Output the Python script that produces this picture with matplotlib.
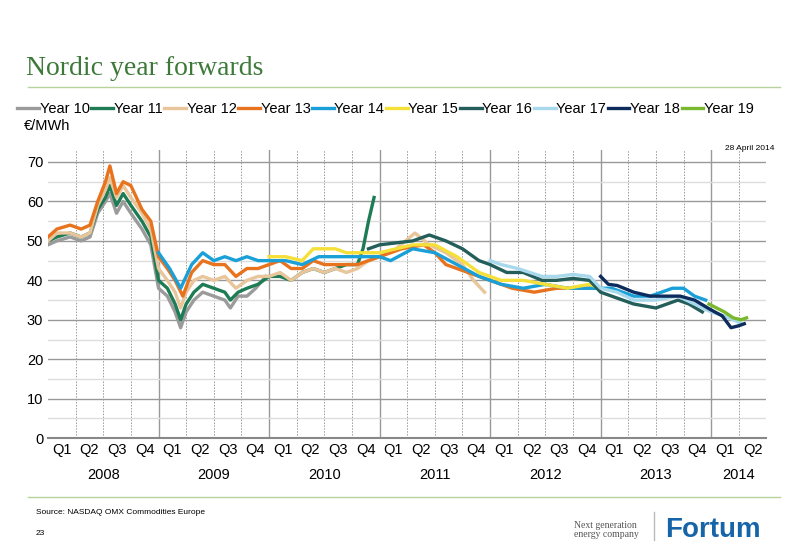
import matplotlib.pyplot as plt
from matplotlib.ticker import MultipleLocator

# time in years since 1 Jan 2008, price in EUR/MWh
t10 = [0.0, 0.08, 0.2, 0.3, 0.38, 0.45, 0.52, 0.56, 0.62, 0.68, 0.75, 0.85, 0.93, 1.0, 1.08, 1.15, 1.2, 1.25, 1.32, 1.4, 1.5, 1.6, 1.65, 1.72, 1.8, 1.88, 1.97]
y10 = [49, 50, 51, 50, 51, 57, 60, 62, 57, 60, 57, 53, 49, 38, 36, 32, 28, 32, 35, 37, 36, 35, 33, 36, 36, 38, 41]
t11 = [0.0, 0.08, 0.2, 0.3, 0.38, 0.45, 0.52, 0.56, 0.62, 0.68, 0.75, 0.85, 0.93, 1.0, 1.08, 1.15, 1.2, 1.25, 1.32, 1.4, 1.5, 1.6, 1.65, 1.72, 1.8, 1.9, 2.0, 2.1, 2.2, 2.3, 2.4, 2.5, 2.6, 2.7, 2.8, 2.85, 2.9, 2.95]
y11 = [50, 51, 52, 51, 52, 58, 61, 64, 59, 62, 59, 55, 51, 40, 38, 34, 30, 34, 37, 39, 38, 37, 35, 37, 38, 39, 41, 41, 40, 42, 43, 42, 43, 44, 44, 48, 55, 61]
t12 = [0.0, 0.08, 0.2, 0.3, 0.38, 0.45, 0.52, 0.56, 0.62, 0.68, 0.75, 0.85, 0.93, 1.0, 1.08, 1.15, 1.2, 1.25, 1.32, 1.4, 1.5, 1.6, 1.7, 1.8, 1.9, 2.0, 2.1, 2.2, 2.3, 2.4, 2.5, 2.6, 2.7, 2.8, 2.9, 3.0, 3.15, 3.32, 3.45, 3.6, 3.75, 3.85, 3.95]
y12 = [50, 52, 52, 51, 52, 59, 63, 66, 61, 64, 61, 57, 53, 43, 40, 37, 33, 37, 40, 41, 40, 41, 38, 40, 41, 41, 42, 40, 42, 43, 42, 43, 42, 43, 45, 46, 48, 52, 49, 47, 44, 40, 37]
t13 = [0.0, 0.08, 0.2, 0.3, 0.38, 0.45, 0.52, 0.56, 0.62, 0.68, 0.75, 0.85, 0.93, 1.0, 1.08, 1.15, 1.22, 1.3, 1.4, 1.5, 1.6, 1.7, 1.8, 1.9, 2.0, 2.1, 2.2, 2.3, 2.4, 2.5, 2.6, 2.7, 2.8, 2.9, 3.0, 3.2, 3.4, 3.5, 3.6, 3.8, 4.0, 4.2, 4.4, 4.6, 4.8, 4.95]
y13 = [51, 53, 54, 53, 54, 60, 65, 69, 62, 65, 64, 58, 55, 46, 43, 40, 36, 42, 45, 44, 44, 41, 43, 43, 44, 45, 43, 43, 45, 44, 44, 44, 44, 45, 46, 48, 49, 47, 44, 42, 40, 38, 37, 38, 38, 38]
t14 = [1.0, 1.1, 1.2, 1.3, 1.4, 1.5, 1.6, 1.7, 1.8, 1.9, 2.0, 2.15, 2.3, 2.45, 2.6, 2.75, 2.9, 3.0, 3.1, 3.3, 3.5, 3.7, 3.9, 4.1, 4.3, 4.5, 4.7, 4.9, 5.1, 5.3, 5.45, 5.55, 5.65, 5.75, 5.85, 5.95]
y14 = [47, 43, 38, 44, 47, 45, 46, 45, 46, 45, 45, 45, 44, 46, 46, 46, 46, 46, 45, 48, 47, 44, 41, 39, 38, 39, 38, 38, 38, 36, 36, 37, 38, 38, 36, 35]
t15 = [2.0, 2.15, 2.3, 2.4, 2.5, 2.6, 2.7, 2.8, 2.9, 3.0, 3.15, 3.3, 3.5, 3.7, 3.9, 4.1, 4.3, 4.5, 4.7, 4.9, 5.0]
y15 = [46, 46, 45, 48, 48, 48, 47, 47, 47, 47, 48, 49, 49, 46, 42, 40, 40, 39, 38, 39, 38]
t16 = [2.9, 3.0, 3.15, 3.3, 3.45, 3.6, 3.75, 3.9, 4.0, 4.15, 4.3, 4.47, 4.6, 4.75, 4.9, 5.0, 5.1, 5.3, 5.5, 5.6, 5.7, 5.8, 5.92]
y16 = [48, 49, 49.5, 50, 51.5, 50, 48, 45, 44, 42, 42, 40, 40, 40.5, 40, 37, 36, 34, 33, 34, 35, 34, 32]
t17 = [4.0, 4.1, 4.25, 4.47, 4.6, 4.75, 4.9, 5.0, 5.15, 5.3, 5.5, 5.7, 5.85, 6.0, 6.12, 6.2, 6.28]
y17 = [45, 44, 43, 41, 41, 41.5, 41, 38, 37, 35, 35, 36, 34, 32, 31, 30, 29]
t18 = [5.0, 5.07, 5.15, 5.3, 5.45, 5.6, 5.72, 5.85, 6.0, 6.1, 6.18, 6.25, 6.3]
y18 = [41, 39, 38.7, 37, 36, 36, 36, 35, 32.5, 31, 28, 28.5, 29]
t19 = [5.98, 6.05, 6.12, 6.2, 6.27, 6.32]
y19 = [34, 33, 32, 30.5, 30, 30.5]

names = ['Year 10', 'Year 11', 'Year 12', 'Year 13', 'Year 14',
         'Year 15', 'Year 16', 'Year 17', 'Year 18', 'Year 19']
colors = ['#9b9b9b', '#1e7c55', '#e8c59a', '#e8731e', '#1aa0d8',
          '#f5e03a', '#235e5a', '#a8d8ec', '#0d2b5c', '#7ab82e']
series = [(t10, y10), (t11, y11), (t12, y12), (t13, y13), (t14, y14),
          (t15, y15), (t16, y16), (t17, y17), (t18, y18), (t19, y19)]
years = ['2008', '2009', '2010', '2011', '2012', '2013', '2014']

plt.rcParams['font.family'] = ['Liberation Sans', 'DejaVu Sans']

fig = plt.figure(figsize=(8, 5.54), dpi=100)
fig.text(0.033, 0.865, 'Nordic year forwards', family='Liberation Serif',
         fontsize=20, color='#3d7a3a')
fig.add_artist(plt.Line2D([0.035, 0.975], [0.843, 0.843], color='#b5d39a', lw=1))
fig.add_artist(plt.Line2D([0.035, 0.975], [0.103, 0.103], color='#b5d39a', lw=1))
fig.text(0.045, 0.073, 'Source: NASDAQ OMX Commodities Europe', fontsize=6)
fig.text(0.045, 0.035, '23', fontsize=6)
fig.text(0.718, 0.03, 'Next generation\nenergy company', family='Liberation Serif',
         fontsize=7, color='#555555', linespacing=1.0)
fig.add_artist(plt.Line2D([0.818, 0.818], [0.025, 0.075], color='#bbbbbb', lw=1))
fig.text(0.832, 0.03, 'Fortum', fontsize=20, fontweight='bold', color='#1565a8')

ax = fig.add_axes([0.06, 0.209, 0.898, 0.52])
for (t, y), c, n in zip(series, colors, names):
    ax.plot(t, y, color=c, lw=2.4, label=n)

ax.set_xlim(0, 6.5)
ax.set_ylim(0, 73)
ax.yaxis.set_major_locator(MultipleLocator(10))
ax.yaxis.set_minor_locator(MultipleLocator(5))
ax.grid(axis='y', which='major', color='#999999', lw=1)
ax.grid(axis='y', which='minor', color='#dddddd', lw=1)
for i in range(1, 7):
    ax.axvline(i, color='#999999', lw=1, zorder=0)
for q in range(26):
    if q % 4:
        ax.axvline(q / 4, color='#999999', lw=0.7, ls=(0, (1.5, 1.5)), zorder=0)
ax.set_xticks([q / 4 + 0.125 for q in range(26)])
ax.set_xticklabels(['Q%d' % (q % 4 + 1) for q in range(26)], fontsize=10.5)
ax.tick_params(which='both', length=0, labelsize=10.5)
for i, yr in enumerate(years):
    ax.text(i + (0.5 if i < 6 else 0.25), -7.5, yr, ha='center', va='top', fontsize=10.5)
for s in ['top', 'right', 'left']:
    ax.spines[s].set_visible(False)
ax.spines['bottom'].set_color('#888888')
ax.spines['bottom'].set_linewidth(1.5)

fig.legend(loc='upper left', bbox_to_anchor=(0.005, 0.84), ncol=10, frameon=False,
           fontsize=10.5, handlelength=1.5, handletextpad=0.05, columnspacing=0.1)
fig.text(0.03, 0.765, '€/MWh', fontsize=10.5)
fig.text(0.968, 0.73, '28 April 2014', fontsize=6, ha='right')

fig.savefig('out.png', dpi=100)
